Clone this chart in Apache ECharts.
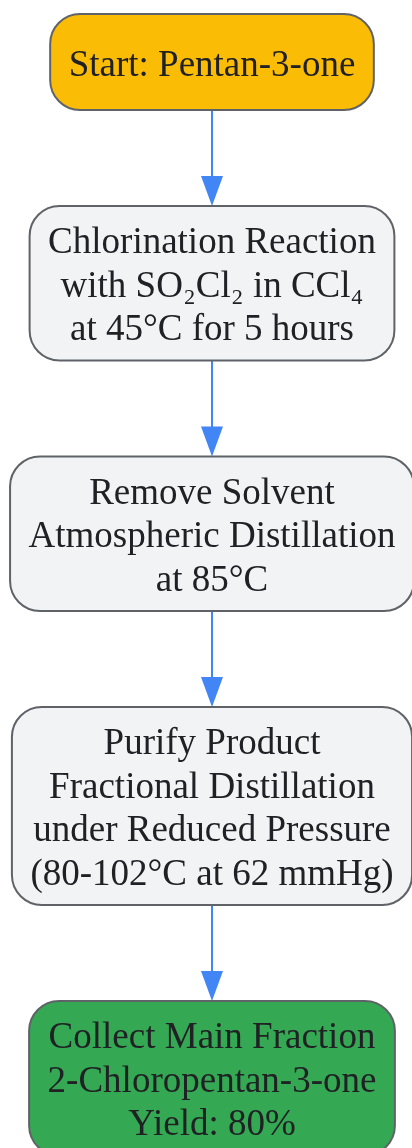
<!DOCTYPE html>
<html><head><meta charset="utf-8">
<script src="https://cdn.jsdelivr.net/npm/echarts@6/dist/echarts.min.js"></script>
<style>html,body{margin:0;padding:0;background:#fff;overflow:hidden}#c{width:412px;height:1148px}</style>
</head><body><div id="c"></div>
<script>
// ---- data ----
const steps = [
  'Start: Pentan-3-one',
  'Chlorination Reaction\nwith SO₂Cl₂ in CCl₄\nat 45°C for 5 hours',
  'Remove Solvent\nAtmospheric Distillation\nat 85°C',
  'Purify Product\nFractional Distillation\nunder Reduced Pressure\n(80-102°C at 62 mmHg)',
  'Collect Main Fraction\n2-Chloropentan-3-one\nYield: 80%'
];
const stepKinds = ['start', 'process', 'process', 'process', 'end'];
const links = [[0, 1], [1, 2], [2, 3], [3, 4]];

// ---- styles / layout ----
const W = 412, H = 1148;
const FONT_SIZE = 37, LINE_H = 43.5, FONT_FAMILY = '"Liberation Serif", "Times New Roman", serif';
const fills = { start: '#FBBC05', process: '#F1F3F4', end: '#34A853' };
const CX = 212, TOP = 14, GAP = 96, PAD_X = 18.5, PAD_Y = 12, MIN_H = 96, RADIUS = 30, TEXT_DY = 4;

const ctx = document.createElement('canvas').getContext('2d');
ctx.font = FONT_SIZE + 'px ' + FONT_FAMILY;
let yCursor = TOP;
const boxes = steps.map(s => {
  const lines = s.split('\n');
  const tw = Math.max(...lines.map(l => ctx.measureText(l).width));
  const w = tw + 2 * PAD_X;
  const h = Math.max(MIN_H, lines.length * LINE_H + 2 * PAD_Y);
  const b = { x: CX - w / 2, y: yCursor, w, h };
  yCursor += h + GAP;
  return b;
});

const chart = echarts.init(document.getElementById('c'), null, { renderer: 'canvas' });
chart.setOption({
  animation: false,
  grid: { left: 0, right: 0, top: 0, bottom: 0 },
  xAxis: { type: 'value', min: 0, max: W, show: false },
  yAxis: { type: 'value', min: 0, max: H, inverse: true, show: false },
  series: [
    {
      type: 'custom',
      clip: false,
      data: links.map((l, i) => [i]),
      renderItem: (params, api) => {
        const [a, b] = links[api.value(0)];
        const p0 = api.coord([CX, boxes[a].y + boxes[a].h]);
        const p1 = api.coord([CX, boxes[b].y]);
        const headH = 30, headW = 22;
        return {
          type: 'group',
          children: [
            { type: 'line', shape: { x1: p0[0], y1: p0[1], x2: p1[0], y2: p1[1] - headH + 2 },
              style: { stroke: '#4285F4', lineWidth: 2 } },
            { type: 'polygon', shape: { points: [[p1[0] - headW / 2, p1[1] - headH], [p1[0] + headW / 2, p1[1] - headH], [p1[0], p1[1]]] },
              style: { fill: '#4285F4' } }
          ]
        };
      }
    },
    {
      type: 'custom',
      clip: false,
      data: steps.map((s, i) => [i]),
      renderItem: (params, api) => {
        const i = api.value(0);
        const bx = boxes[i];
        const p = api.coord([bx.x, bx.y]);
        const q = api.coord([bx.x + bx.w, bx.y + bx.h]);
        return {
          type: 'group',
          children: [
            { type: 'rect', shape: { x: p[0], y: p[1], width: q[0] - p[0], height: q[1] - p[1], r: RADIUS },
              style: { fill: fills[stepKinds[i]], stroke: '#5F6368', lineWidth: 2 } },
            { type: 'text', x: (p[0] + q[0]) / 2, y: (p[1] + q[1]) / 2 + TEXT_DY,
              style: { text: steps[i], fill: '#202124', font: FONT_SIZE + 'px ' + FONT_FAMILY,
                       align: 'center', verticalAlign: 'middle', lineHeight: LINE_H } }
          ]
        };
      }
    }
  ]
});
</script>
</body></html>
